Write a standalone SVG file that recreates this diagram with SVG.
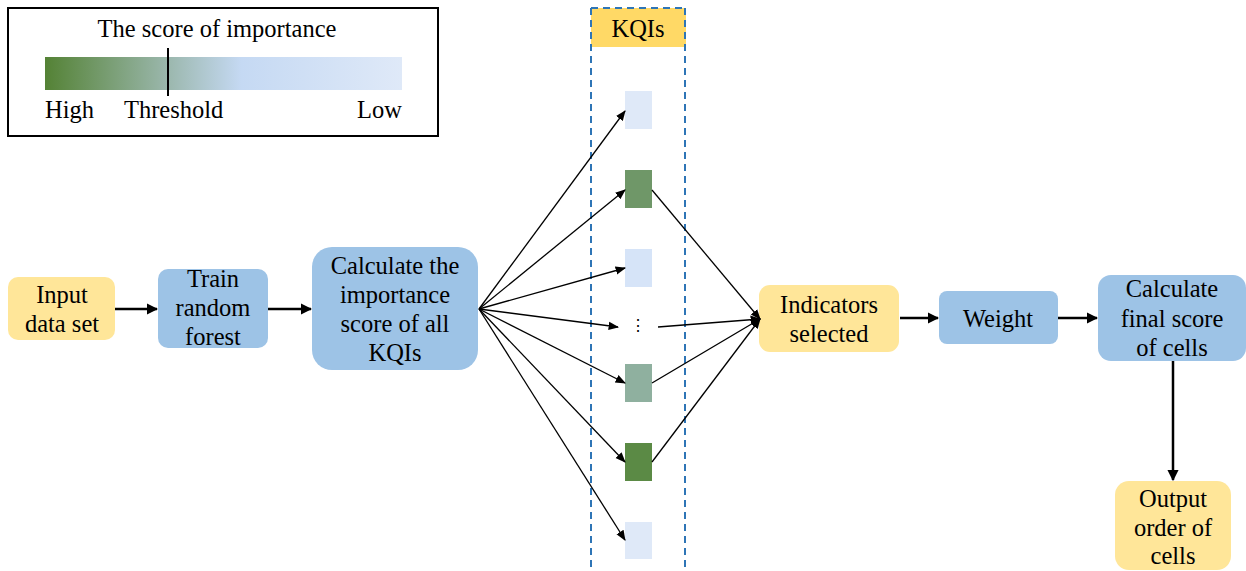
<svg xmlns="http://www.w3.org/2000/svg" width="1246" height="571" viewBox="0 0 1246 571" font-family="'Liberation Serif', 'DejaVu Serif', serif">
<style>
text{font-family:'Liberation Serif','DejaVu Serif',serif;font-size:24.5px;fill:#000;text-anchor:middle}
.y{fill:#ffe699}
.b{fill:#9dc3e6}
.main{stroke:#000;stroke-width:2.5;fill:none;marker-end:url(#ah)}
.fan{stroke:#000;stroke-width:1.3;fill:none;marker-end:url(#as)}
</style>
<defs>
<marker id="ah" viewBox="0 0 10 10" refX="9" refY="5" markerWidth="4.5" markerHeight="4.5" orient="auto" markerUnits="strokeWidth"><path d="M0,0L10,5L0,10z" fill="#000"/></marker>
<marker id="as" viewBox="0 0 10 10" refX="9" refY="5" markerWidth="8" markerHeight="8" orient="auto" markerUnits="strokeWidth"><path d="M0,1L10,5L0,9z" fill="#000"/></marker>
<linearGradient id="g" x1="0" x2="1" y1="0" y2="0">
<stop offset="0" stop-color="#548235"/>
<stop offset="0.33" stop-color="#98b5a8"/>
<stop offset="0.55" stop-color="#c5d9f3"/>
<stop offset="1" stop-color="#dfe9f8"/>
</linearGradient>
</defs>
<rect width="1246" height="571" fill="#fff"/>

<g id="legend">
<rect x="8" y="8" width="430" height="128" fill="#fff" stroke="#000" stroke-width="2"/>
<text x="217" y="37">The score of importance</text>
<rect x="45" y="57" width="357" height="33" fill="url(#g)"/>
<line x1="168" y1="48" x2="168" y2="96" stroke="#000" stroke-width="2"/>
<text x="45" y="118" style="text-anchor:start">High</text>
<text x="124" y="118" style="text-anchor:start">Threshold</text>
<text x="402" y="118" style="text-anchor:end">Low</text>
</g>

<g id="kqis">
<rect x="591" y="8" width="95" height="39" fill="#ffd966"/>
<path d="M591,8H686M591,8V571M685,8V571" stroke="#2e75b6" stroke-width="2" stroke-dasharray="7,5" fill="none"/>
<text x="638" y="37">KQIs</text>
<rect id="k1" x="625" y="91" width="27" height="38" fill="#dfe9f8"/>
<rect id="k2" x="625" y="170" width="27" height="38" fill="#6f9768"/>
<rect id="k3" x="625" y="249" width="27" height="38" fill="#d6e4f8"/>
<text x="638" y="331" style="font-size:16px">⋮</text>
<rect id="k4" x="625" y="364" width="27" height="38" fill="#8fb09f"/>
<rect id="k5" x="625" y="443" width="27" height="38" fill="#5b8a45"/>
<rect id="k6" x="625" y="522" width="27" height="37" fill="#dfe9f8"/>
</g>

<g id="input"><rect class="y" x="8" y="277" width="107" height="63" rx="10"/><text x="62" y="303">Input</text><text x="62" y="332">data set</text></g>
<g id="train"><rect class="b" x="158" y="269" width="110" height="79" rx="10"/><text x="213" y="287">Train</text><text x="213" y="316">random</text><text x="213" y="345">forest</text></g>
<g id="calc"><rect class="b" x="312" y="247" width="166" height="123" rx="20"/><text x="395" y="274">Calculate the</text><text x="395" y="303">importance</text><text x="395" y="332">score of all</text><text x="395" y="361">KQIs</text></g>
<g id="indicators"><rect class="y" x="759" y="285" width="140" height="67" rx="11"/><text x="829" y="313">Indicators</text><text x="829" y="342">selected</text></g>
<g id="weight"><rect class="b" x="939" y="291" width="119" height="53" rx="8"/><text x="998" y="327">Weight</text></g>
<g id="final"><rect class="b" x="1098" y="275" width="148" height="86" rx="13"/><text x="1172" y="297">Calculate</text><text x="1172" y="327">final score</text><text x="1172" y="356">of cells</text></g>
<g id="output"><rect class="y" x="1115" y="481" width="116" height="89" rx="14"/><text x="1173" y="507">Output</text><text x="1173" y="536">order of</text><text x="1173" y="564">cells</text></g>

<g id="connectors">
<line class="main" x1="115" y1="309" x2="157" y2="309"/>
<line class="main" x1="268" y1="309" x2="311" y2="309"/>
<line class="fan" x1="479" y1="309" x2="625" y2="111"/>
<line class="fan" x1="479" y1="309" x2="625" y2="190"/>
<line class="fan" x1="479" y1="309" x2="625" y2="268"/>
<line class="fan" x1="479" y1="309" x2="618" y2="327"/>
<line class="fan" x1="479" y1="309" x2="625" y2="383"/>
<line class="fan" x1="479" y1="309" x2="625" y2="462"/>
<line class="fan" x1="479" y1="309" x2="625" y2="540"/>
<line class="fan" x1="652" y1="190" x2="760" y2="319"/>
<line class="fan" x1="658" y1="327" x2="760" y2="319"/>
<line class="fan" x1="652" y1="383" x2="760" y2="319"/>
<line class="fan" x1="652" y1="462" x2="760" y2="319"/>
<line class="main" x1="900" y1="318" x2="938" y2="318"/>
<line class="main" x1="1058" y1="318" x2="1097" y2="318"/>
<line class="main" x1="1173" y1="361" x2="1173" y2="480"/>
</g>
</svg>
